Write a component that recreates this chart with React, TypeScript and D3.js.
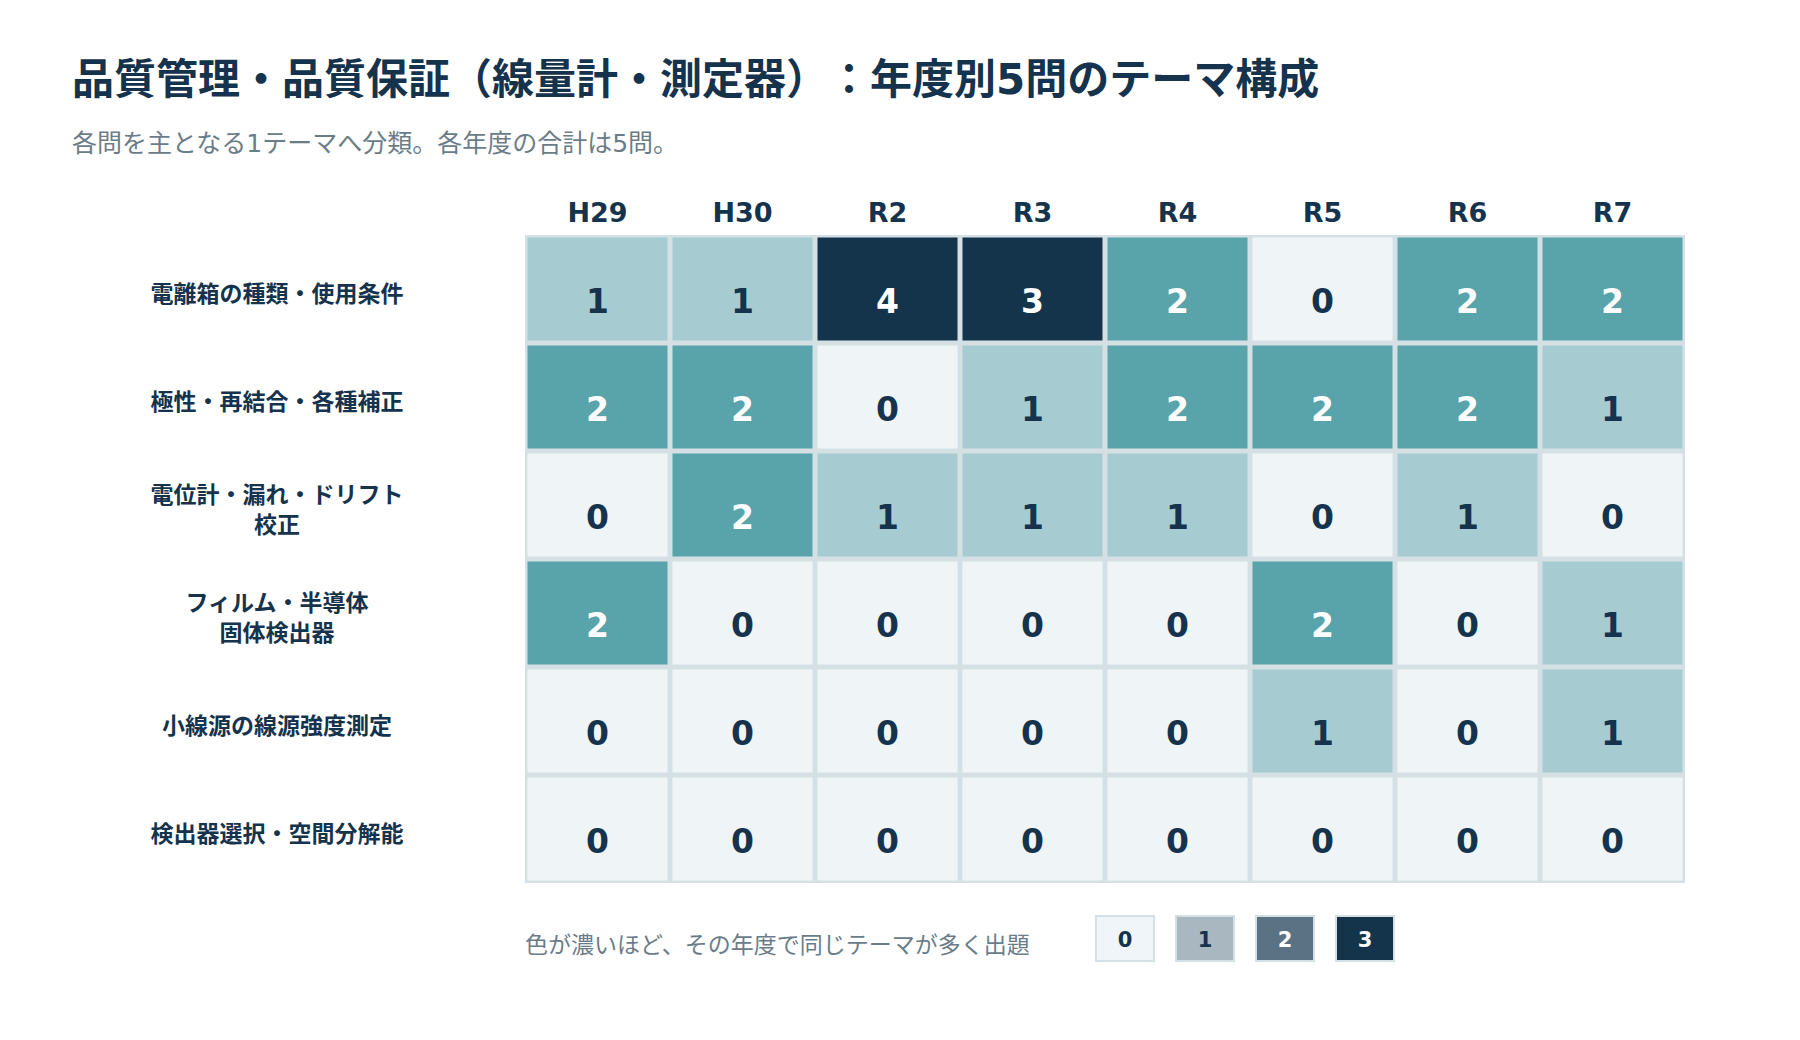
import React, { useRef, useEffect } from 'react';
import * as d3 from 'd3';

const years = ['H29', 'H30', 'R2', 'R3', 'R4', 'R5', 'R6', 'R7'];

const themes = [
  ['電離箱の種類・使用条件'],
  ['極性・再結合・各種補正'],
  ['電位計・漏れ・ドリフト', '校正'],
  ['フィルム・半導体', '固体検出器'],
  ['小線源の線源強度測定'],
  ['検出器選択・空間分解能'],
];

// counts per theme (row) for each year (column)
const counts = [
  [1, 1, 4, 3, 2, 0, 2, 2],
  [2, 2, 0, 1, 2, 2, 2, 1],
  [0, 2, 1, 1, 1, 0, 1, 0],
  [2, 0, 0, 0, 0, 2, 0, 1],
  [0, 0, 0, 0, 0, 1, 0, 1],
  [0, 0, 0, 0, 0, 0, 0, 0],
];

const legendLevels = [0, 1, 2, 3];

const TITLE = '品質管理・品質保証（線量計・測定器）：年度別5問のテーマ構成';
const SUBTITLE = '各問を主となる1テーマへ分類。各年度の合計は5問。';
const LEGEND_NOTE = '色が濃いほど、その年度で同じテーマが多く出題';

const WIDTH = 1800;
const HEIGHT = 1040;
const FONT = '"DejaVu Sans", "Noto Sans CJK JP", sans-serif';
const NAVY = '#15334d';
const GRID_LINE = '#d5e0e4';
const NO_TRIM = 'text-spacing-trim: space-all';

const App: React.FC = () => {
  const svgRef = useRef<SVGSVGElement>(null);

  useEffect(() => {
    if (!svgRef.current) return;
    const svg = d3.select(svgRef.current);
    svg.selectAll('*').remove();

    svg.append('rect').attr('width', WIDTH).attr('height', HEIGHT).attr('fill', '#ffffff');

    // Title + subtitle
    svg.append('text')
      .attr('x', 72).attr('y', 79)
      .attr('dominant-baseline', 'central')
      .attr('font-family', FONT).attr('font-weight', 700).attr('font-size', 42)
      .attr('fill', NAVY)
      .attr('style', NO_TRIM)
      .text(TITLE);

    svg.append('text')
      .attr('x', 72).attr('y', 143)
      .attr('dominant-baseline', 'central')
      .attr('font-family', FONT).attr('font-size', 25)
      .attr('fill', '#6b7c89')
      .attr('style', NO_TRIM)
      .text(SUBTITLE);

    const x = d3.scaleBand<string>().domain(years).range([525, 1685]);
    const y = d3.scaleBand<number>().domain(d3.range(themes.length)).range([235, 883]);

    const color = d3.scaleThreshold<number, string>()
      .domain([1, 2, 3])
      .range(['#eff5f7', '#a6ccd1', '#59a4aa', '#14344c']);

    // Grid background (acts as cell borders)
    svg.append('rect')
      .attr('x', x.range()[0]).attr('y', y.range()[0])
      .attr('width', x.range()[1] - x.range()[0])
      .attr('height', y.range()[1] - y.range()[0])
      .attr('fill', GRID_LINE);

    // Column headers
    svg.append('g')
      .selectAll('text')
      .data(years)
      .enter()
      .append('text')
      .attr('x', d => (x(d) as number) + x.bandwidth() / 2)
      .attr('y', 222)
      .attr('text-anchor', 'middle')
      .attr('font-family', FONT).attr('font-weight', 700).attr('font-size', 27)
      .attr('fill', NAVY)
      .text(d => d);

    // Row labels, one text per line
    const labelLines = themes.flatMap((lines, i) =>
      lines.map((line, j) => ({ line, i, j, n: lines.length }))
    );
    svg.append('g')
      .selectAll('text')
      .data(labelLines)
      .enter()
      .append('text')
      .attr('x', 277)
      .attr('y', d => (y(d.i) as number) + y.bandwidth() / 2 + 5 + (d.j - (d.n - 1) / 2) * 30)
      .attr('text-anchor', 'middle')
      .attr('dominant-baseline', 'central')
      .attr('font-family', FONT).attr('font-weight', 700).attr('font-size', 23)
      .attr('fill', NAVY)
      .text(d => d.line);

    // Cells
    const cells = counts.flatMap((row, r) => row.map((v, c) => ({ r, c, v })));
    const inset = 2.5;

    const cellG = svg.append('g')
      .selectAll('g')
      .data(cells)
      .enter()
      .append('g');

    cellG.append('rect')
      .attr('x', d => (x(years[d.c]) as number) + inset)
      .attr('y', d => (y(d.r) as number) + inset)
      .attr('width', x.bandwidth() - inset * 2)
      .attr('height', y.bandwidth() - inset * 2)
      .attr('fill', d => color(d.v));

    cellG.append('text')
      .attr('x', d => (x(years[d.c]) as number) + x.bandwidth() / 2)
      .attr('y', d => (y(d.r) as number) + y.bandwidth() / 2 + 12.5)
      .attr('text-anchor', 'middle')
      .attr('dominant-baseline', 'central')
      .attr('font-family', FONT).attr('font-weight', 700).attr('font-size', 33)
      .attr('fill', d => (d.v >= 2 ? '#ffffff' : NAVY))
      .text(d => d.v);

    // Legend
    svg.append('text')
      .attr('x', 525).attr('y', 945)
      .attr('dominant-baseline', 'central')
      .attr('font-family', FONT).attr('font-size', 23)
      .attr('fill', '#6b7c89')
      .text(LEGEND_NOTE);

    const legendColor = d3.scaleOrdinal<number, string>()
      .domain(legendLevels)
      .range(['#eff5f8', '#a8b7c0', '#5b7285', '#14344c']);

    const lx = d3.scaleBand<number>().domain(legendLevels).range([1095, 1395]).paddingInner(0.25);

    const legendG = svg.append('g')
      .selectAll('g')
      .data(legendLevels)
      .enter()
      .append('g');

    legendG.append('rect')
      .attr('x', d => (lx(d) as number) + 1)
      .attr('y', 916)
      .attr('width', lx.bandwidth() - 2)
      .attr('height', 45)
      .attr('fill', d => legendColor(d))
      .attr('stroke', GRID_LINE)
      .attr('stroke-width', 2);

    legendG.append('text')
      .attr('x', d => (lx(d) as number) + lx.bandwidth() / 2)
      .attr('y', 940)
      .attr('text-anchor', 'middle')
      .attr('dominant-baseline', 'central')
      .attr('font-family', FONT).attr('font-weight', 700).attr('font-size', 21)
      .attr('fill', d => (d >= 2 ? '#ffffff' : NAVY))
      .text(d => d);
  }, []);

  return (
    <svg
      ref={svgRef}
      width={WIDTH}
      height={HEIGHT}
      style={{ position: 'absolute', left: 0, top: 0, display: 'block' }}
    />
  );
};

export default App;
